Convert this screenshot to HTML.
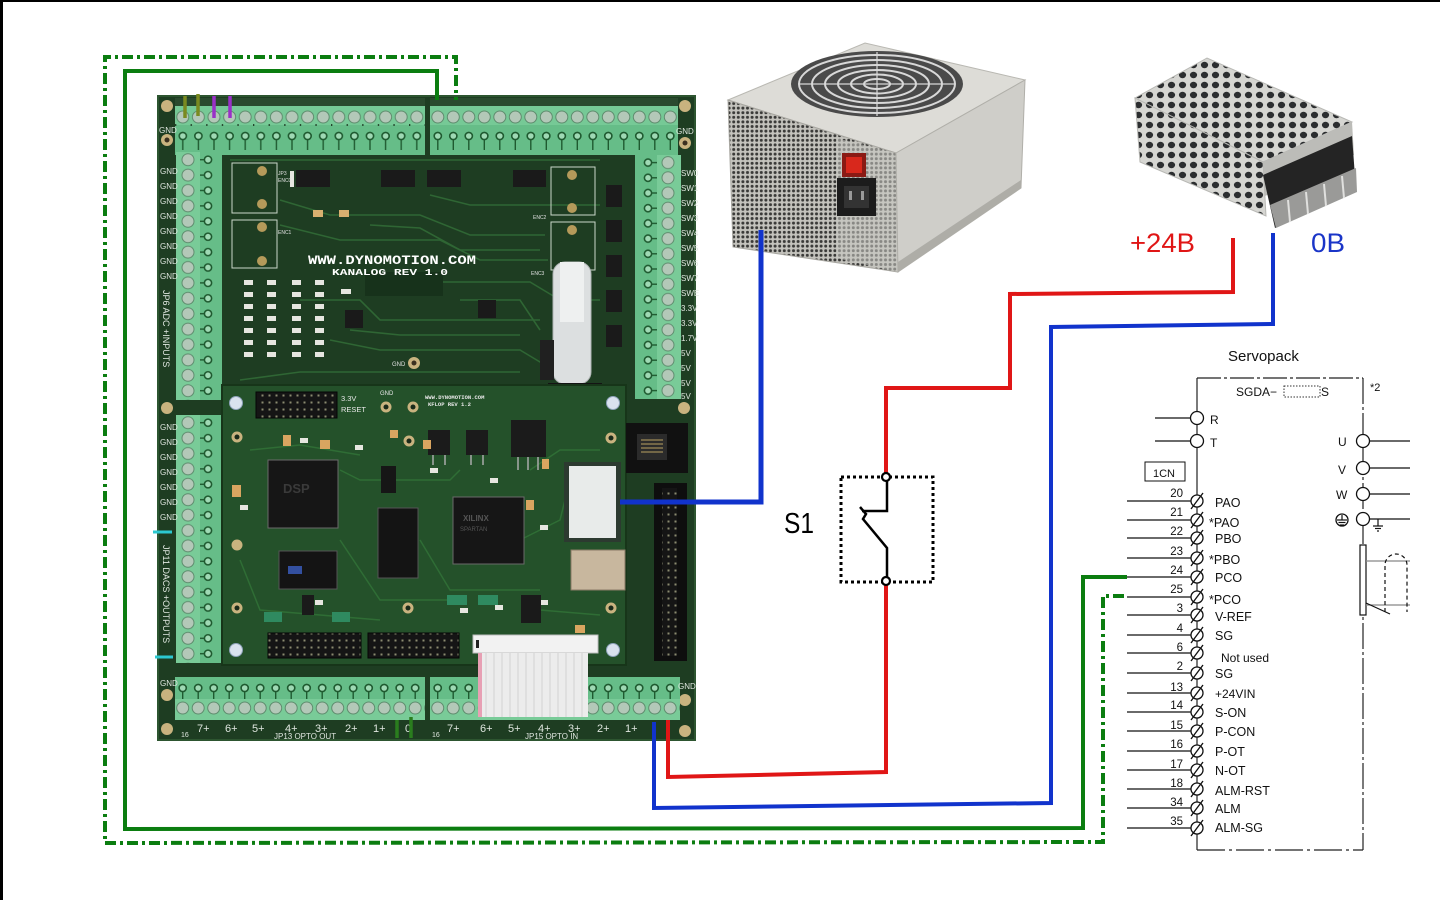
<!DOCTYPE html>
<html><head><meta charset="utf-8"><style>
html,body{margin:0;padding:0;background:#fff;}
svg{display:block;}
text{font-family:"Liberation Sans",sans-serif;}
text.mono{font-family:"Liberation Mono",monospace;}
</style></head><body>
<svg width="1440" height="900" viewBox="0 0 1440 900" xmlns="http://www.w3.org/2000/svg">
<defs>
 <pattern id="pTop1" x="175" y="98" width="15.6" height="57" patternUnits="userSpaceOnUse">
  <rect width="15.6" height="57" fill="#76c996"/>
  <rect width="15.6" height="8" fill="#2a4a2e"/>
  <circle cx="7.8" cy="19" r="6" fill="#b3c8b8" stroke="#5f8c6e" stroke-width="1"/>
  <rect y="27" width="15.6" height="30" fill="#66bd88"/>
  <circle cx="7.8" cy="38" r="3.6" fill="#9fd9b4" stroke="#1f5a30" stroke-width="1.6"/>
  <line x1="7.8" y1="41.5" x2="7.8" y2="52" stroke="#1f5a30" stroke-width="1.4"/>
  <circle cx="0.5" cy="27" r="1" fill="#1f3a25"/>
 </pattern>
 <pattern id="pTop2" x="430" y="98" width="15.5" height="57" patternUnits="userSpaceOnUse">
  <rect width="15.5" height="57" fill="#76c996"/>
  <rect width="15.5" height="8" fill="#2a4a2e"/>
  <circle cx="7.8" cy="19" r="6" fill="#b3c8b8" stroke="#5f8c6e" stroke-width="1"/>
  <rect y="27" width="15.5" height="30" fill="#66bd88"/>
  <circle cx="7.8" cy="38" r="3.6" fill="#9fd9b4" stroke="#1f5a30" stroke-width="1.6"/>
  <line x1="7.8" y1="41.5" x2="7.8" y2="52" stroke="#1f5a30" stroke-width="1.4"/>
 </pattern>
 <pattern id="pLeft" x="176" y="152" width="46" height="15.4" patternUnits="userSpaceOnUse">
  <rect width="46" height="15.4" fill="#66bd88"/>
  <rect width="24" height="15.4" fill="#79cb98"/>
  <circle cx="12" cy="7.7" r="6" fill="#b3c8b8" stroke="#5f8c6e" stroke-width="1"/>
  <circle cx="32" cy="7.7" r="3.6" fill="#9fd9b4" stroke="#1f5a30" stroke-width="1.6"/>
  <line x1="24" y1="7.7" x2="28.5" y2="7.7" stroke="#1f5a30" stroke-width="1.4"/>
 </pattern>
 <pattern id="pLeft2" x="176" y="415" width="46" height="15.4" patternUnits="userSpaceOnUse">
  <rect width="46" height="15.4" fill="#66bd88"/>
  <rect width="24" height="15.4" fill="#79cb98"/>
  <circle cx="12" cy="7.7" r="6" fill="#b3c8b8" stroke="#5f8c6e" stroke-width="1"/>
  <circle cx="32" cy="7.7" r="3.6" fill="#9fd9b4" stroke="#1f5a30" stroke-width="1.6"/>
  <line x1="24" y1="7.7" x2="28.5" y2="7.7" stroke="#1f5a30" stroke-width="1.4"/>
 </pattern>
 <pattern id="pRight" x="635" y="155" width="46" height="15.2" patternUnits="userSpaceOnUse">
  <rect width="46" height="15.2" fill="#66bd88"/>
  <rect x="22" width="24" height="15.2" fill="#79cb98"/>
  <circle cx="33" cy="7.6" r="6" fill="#b3c8b8" stroke="#5f8c6e" stroke-width="1"/>
  <circle cx="13" cy="7.6" r="3.6" fill="#9fd9b4" stroke="#1f5a30" stroke-width="1.6"/>
  <line x1="16.5" y1="7.6" x2="22" y2="7.6" stroke="#1f5a30" stroke-width="1.4"/>
 </pattern>
 <pattern id="pBot1" x="175" y="677" width="15.5" height="43" patternUnits="userSpaceOnUse">
  <rect width="15.5" height="43" fill="#66bd88"/>
  <rect y="22" width="15.5" height="21" fill="#79cb98"/>
  <circle cx="7.7" cy="31" r="6" fill="#b3c8b8" stroke="#5f8c6e" stroke-width="1"/>
  <circle cx="7.7" cy="11" r="3.6" fill="#9fd9b4" stroke="#1f5a30" stroke-width="1.6"/>
  <line x1="7.7" y1="14.5" x2="7.7" y2="22" stroke="#1f5a30" stroke-width="1.4"/>
 </pattern>
 <pattern id="pBot2" x="430" y="677" width="15.5" height="43" patternUnits="userSpaceOnUse">
  <rect width="15.5" height="43" fill="#66bd88"/>
  <rect y="22" width="15.5" height="21" fill="#79cb98"/>
  <circle cx="7.7" cy="31" r="6" fill="#b3c8b8" stroke="#5f8c6e" stroke-width="1"/>
  <circle cx="7.7" cy="11" r="3.6" fill="#9fd9b4" stroke="#1f5a30" stroke-width="1.6"/>
  <line x1="7.7" y1="14.5" x2="7.7" y2="22" stroke="#1f5a30" stroke-width="1.4"/>
 </pattern>
 <pattern id="perf" x="0" y="0" width="4.6" height="4.6" patternUnits="userSpaceOnUse">
  <rect width="4.6" height="4.6" fill="#c4c3bd"/>
  <circle cx="2.3" cy="2.3" r="1.5" fill="#3a3a38"/>
 </pattern>
 <pattern id="mwHoles" x="0" y="0" width="11" height="10" patternUnits="userSpaceOnUse">
  <rect width="11" height="10" fill="#d6d6d2"/>
  <ellipse cx="5.5" cy="5" rx="3.6" ry="3.2" fill="#2c2e30"/>
 </pattern>
 <pattern id="hdr" x="0" y="0" width="7" height="7" patternUnits="userSpaceOnUse">
  <rect width="7" height="7" fill="#151515"/>
  <rect x="2.5" y="2.5" width="2" height="2" fill="#8a8a70"/>
 </pattern>
</defs>

<rect width="1440" height="900" fill="#ffffff"/>
<rect x="0" y="0" width="1440" height="2" fill="#000"/>
<rect x="0" y="0" width="3" height="900" fill="#000"/>

<!-- ============ ATX PSU ============ -->
<polygon points="728,100 865,43 1025,80 896,153" fill="#dddcd7" stroke="#b9b8b2"/>
<ellipse cx="877" cy="84" rx="86" ry="33" fill="#4a4a4a"/>
<g fill="none" stroke="#d8d8d8" stroke-width="2">
 <ellipse cx="877" cy="84" rx="78" ry="29"/>
 <ellipse cx="877" cy="84" rx="65" ry="24"/>
 <ellipse cx="877" cy="84" rx="52" ry="19"/>
 <ellipse cx="877" cy="84" rx="39" ry="14"/>
 <ellipse cx="877" cy="84" rx="26" ry="9.5"/>
 <ellipse cx="877" cy="84" rx="13" ry="5"/>
 <line x1="800" y1="84" x2="954" y2="84" stroke-width="1.2"/>
 <line x1="877" y1="52" x2="877" y2="116" stroke-width="1.2"/>
</g>
<polygon points="728,100 896,153 898,272 733,247" fill="url(#perf)" stroke="#a8a7a1"/>
<polygon points="836,138 896,153 898,272 836,258" fill="#c9c8c2" opacity="0.55"/>
<polygon points="896,153 1025,80 1021,188 898,272" fill="#cfcec9" stroke="#b0afa9"/>
<polygon points="898,262 1021,180 1021,188 898,272" fill="#aeada7"/>
<rect x="842" y="153" width="24" height="24" fill="#8a1a14"/>
<rect x="846" y="157" width="16" height="16" fill="#d8281c"/>
<rect x="837" y="178" width="39" height="38" fill="#1c1c1c"/>
<rect x="844" y="186" width="25" height="22" fill="#333"/>
<rect x="849" y="191" width="3" height="9" fill="#999"/><rect x="861" y="191" width="3" height="9" fill="#999"/>

<!-- ============ Meanwell PSU ============ -->
<polygon points="1135,98 1207,58 1352,122 1263,162" fill="url(#mwHoles)" stroke="#b8b8b4"/>
<polygon points="1135,98 1263,162 1266,216 1140,162" fill="url(#mwHoles)" stroke="#b8b8b4"/>
<polygon points="1263,162 1352,122 1354,155 1265,196" fill="#bcbcb8"/>
<polygon points="1263,175 1352,136 1356,190 1275,228" fill="#242424"/>
<polygon points="1270,205 1356,168 1357,192 1276,228" fill="#9a9a98"/>
<g stroke="#e0e0de" stroke-width="2">
 <line x1="1288" y1="200" x2="1290" y2="222"/><line x1="1306" y1="192" x2="1308" y2="214"/>
 <line x1="1324" y1="184" x2="1326" y2="206"/><line x1="1342" y1="176" x2="1344" y2="198"/>
</g>

<!-- labels for PSU -->
<text x="1130" y="252" font-size="27" fill="#e01616" textLength="65" lengthAdjust="spacingAndGlyphs">+24B</text>
<text x="1311" y="252" font-size="27" fill="#1a35c8" textLength="34" lengthAdjust="spacingAndGlyphs">0B</text>

<!-- ============ Board ============ -->
<rect x="158" y="96" width="537" height="644" fill="#1e3d22"/>
<rect x="158" y="96" width="537" height="644" fill="none" stroke="#2d5530" stroke-width="2"/>
<!-- traces -->
<g stroke="#2f6634" stroke-width="1.6" fill="none">
 <polyline points="280,200 330,215 420,215 470,235 545,235"/>
 <polyline points="280,225 340,240 440,240 480,260 548,260"/>
 <polyline points="300,300 360,300 380,320 540,320"/>
 <polyline points="330,340 380,350 520,350 545,365"/>
 <polyline points="240,380 300,372 520,372"/>
 <polyline points="430,195 470,205 600,205"/>
 <polyline points="440,282 530,282 560,300 600,300"/>
 <polyline points="460,300 520,300 540,330"/>
 <polyline points="370,225 420,228 460,250 540,250"/>
 <polyline points="350,330 400,335 520,335"/>
 <polyline points="230,160 600,160"/>
</g>
<!-- ENC boxes -->
<g stroke="#c9d6c9" stroke-width="1" fill="none">
 <rect x="232" y="163" width="45" height="50"/>
 <rect x="232" y="220" width="45" height="48"/>
 <rect x="551" y="167" width="44" height="48"/>
 <rect x="551" y="222" width="44" height="48"/>
</g>
<g fill="#b59a5a">
 <circle cx="262" cy="171" r="5"/><circle cx="262" cy="204" r="5"/><circle cx="262" cy="227" r="5"/><circle cx="262" cy="261" r="5"/>
 <circle cx="572" cy="175" r="5"/><circle cx="572" cy="208" r="5"/><circle cx="572" cy="230" r="5"/>
</g>
<g fill="#1a1a1a">
 <rect x="296" y="170" width="34" height="17"/>
 <rect x="381" y="170" width="34" height="17"/>
 <rect x="427" y="170" width="34" height="17"/>
 <rect x="513" y="170" width="33" height="17"/>
 <rect x="606" y="185" width="16" height="22"/>
 <rect x="606" y="220" width="16" height="22"/>
 <rect x="606" y="255" width="16" height="22"/>
 <rect x="606" y="290" width="16" height="22"/>
 <rect x="606" y="325" width="16" height="22"/>
 <rect x="345" y="310" width="18" height="18"/>
 <rect x="478" y="300" width="18" height="18"/>
</g>
<rect x="365" y="272" width="78" height="24" fill="#17321b"/>
<!-- small SMD parts -->
<g fill="#e6e6e0">
 <rect x="244" y="280" width="9" height="5"/><rect x="267" y="280" width="9" height="5"/><rect x="292" y="280" width="9" height="5"/><rect x="315" y="280" width="9" height="5"/>
 <rect x="244" y="292" width="9" height="5"/><rect x="267" y="292" width="9" height="5"/><rect x="292" y="292" width="9" height="5"/><rect x="315" y="292" width="9" height="5"/>
 <rect x="244" y="304" width="9" height="5"/><rect x="267" y="304" width="9" height="5"/><rect x="292" y="304" width="9" height="5"/><rect x="315" y="304" width="9" height="5"/>
 <rect x="244" y="316" width="9" height="5"/><rect x="267" y="316" width="9" height="5"/><rect x="292" y="316" width="9" height="5"/><rect x="315" y="316" width="9" height="5"/>
 <rect x="244" y="328" width="9" height="5"/><rect x="267" y="328" width="9" height="5"/><rect x="292" y="328" width="9" height="5"/><rect x="315" y="328" width="9" height="5"/>
 <rect x="244" y="340" width="9" height="5"/><rect x="267" y="340" width="9" height="5"/><rect x="292" y="340" width="9" height="5"/><rect x="315" y="340" width="9" height="5"/>
 <rect x="244" y="352" width="9" height="5"/><rect x="267" y="352" width="9" height="5"/><rect x="292" y="352" width="9" height="5"/><rect x="315" y="352" width="9" height="5"/>
 <rect x="341" y="289" width="10" height="5"/><rect x="290" y="171" width="4" height="16"/>
</g>
<rect x="313" y="210" width="10" height="7" fill="#d9b070"/><rect x="339" y="210" width="10" height="7" fill="#d9b070"/>
<text class="mono" x="308" y="264" font-size="12.5" font-weight="bold" fill="#ffffff" textLength="168" lengthAdjust="spacingAndGlyphs">WWW.DYNOMOTION.COM</text>
<text class="mono" x="332" y="275" font-size="9" font-weight="bold" fill="#ffffff" textLength="116" lengthAdjust="spacingAndGlyphs">KANALOG REV 1.0</text>
<text x="278" y="175" font-size="5" fill="#e0e0e0">JP3</text><text x="278" y="182" font-size="5" fill="#e0e0e0">ENC0</text>
<text x="278" y="234" font-size="5" fill="#e0e0e0">ENC1</text>
<text x="531" y="275" font-size="5" fill="#e0e0e0">ENC3</text>
<text x="533" y="219" font-size="5" fill="#e0e0e0">ENC2</text>
<!-- holes -->
<g fill="#c9b37f"><circle cx="167" cy="106" r="6"/><circle cx="167" cy="140" r="6"/><circle cx="685" cy="106" r="6"/><circle cx="685" cy="143" r="6"/>
<circle cx="167" cy="408" r="6"/><circle cx="684" cy="408" r="6"/><circle cx="167" cy="695" r="6"/><circle cx="167" cy="729" r="6"/><circle cx="685" cy="700" r="6"/><circle cx="685" cy="731" r="6"/><circle cx="414" cy="363" r="6"/></g>
<g fill="#3b3020"><circle cx="167" cy="140" r="2.5"/><circle cx="685" cy="143" r="2.5"/><circle cx="414" cy="363" r="2.5"/></g>
<text x="392" y="366" font-size="6" fill="#e0e0e0">GND</text>

<!-- terminal strips -->
<rect x="175" y="98" width="250" height="57" fill="url(#pTop1)"/>
<rect x="430" y="98" width="248" height="57" fill="url(#pTop2)"/>
<rect x="176" y="152" width="46" height="248" fill="url(#pLeft)"/>
<rect x="176" y="415" width="46" height="248" fill="url(#pLeft2)"/>
<rect x="635" y="155" width="46" height="244" fill="url(#pRight)"/>
<rect x="175" y="677" width="250" height="43" fill="url(#pBot1)"/>
<rect x="430" y="677" width="250" height="43" fill="url(#pBot2)"/>

<!-- left labels -->
<g font-size="8" fill="#dfe6df">
 <text x="160" y="174">GND</text><text x="160" y="189">GND</text><text x="160" y="204">GND</text><text x="160" y="219">GND</text>
 <text x="160" y="234">GND</text><text x="160" y="249">GND</text><text x="160" y="264">GND</text><text x="160" y="279">GND</text>
 <text x="160" y="430">GND</text><text x="160" y="445">GND</text><text x="160" y="460">GND</text><text x="160" y="475">GND</text>
 <text x="160" y="490">GND</text><text x="160" y="505">GND</text><text x="160" y="520">GND</text>
 <text x="159" y="133">GND</text><text x="676" y="134">GND</text><text x="678" y="689">GND</text><text x="160" y="686">GND</text>
</g>
<text transform="translate(163,290) rotate(90)" font-size="9" fill="#dfe6df">JP6 ADC +INPUTS</text>
<text transform="translate(163,545) rotate(90)" font-size="9" fill="#dfe6df">JP11 DACS +OUTPUTS</text>
<g font-size="8" fill="#dfe6df">
 <text x="681" y="176">SW0</text><text x="681" y="191">SW1</text><text x="681" y="206">SW2</text><text x="681" y="221">SW3</text>
 <text x="681" y="236">SW4</text><text x="681" y="251">SW5</text><text x="681" y="266">SW6</text><text x="681" y="281">SW7</text>
 <text x="681" y="296">SWE</text><text x="681" y="311">3.3V</text><text x="681" y="326">3.3V</text><text x="681" y="341">1.7V</text>
 <text x="681" y="356">5V</text><text x="681" y="371">5V</text><text x="681" y="386">5V</text><text x="681" y="399">5V</text>
</g>
<g font-size="11" fill="#dfe6df">
 <text x="181" y="737" font-size="7">16</text><text x="197" y="732">7+</text><text x="225" y="732">6+</text><text x="252" y="732">5+</text><text x="285" y="732">4+</text>
 <text x="315" y="732">3+</text><text x="345" y="732">2+</text><text x="373" y="732">1+</text><text x="405" y="732">0</text>
 <text x="432" y="737" font-size="7">16</text><text x="447" y="732">7+</text><text x="480" y="732">6+</text><text x="508" y="732">5+</text><text x="538" y="732">4+</text>
 <text x="568" y="732">3+</text><text x="597" y="732">2+</text><text x="625" y="732">1+</text>
</g>
<text x="274" y="739" font-size="8" fill="#dfe6df">JP13  OPTO  OUT</text>
<text x="525" y="739" font-size="8" fill="#dfe6df">JP15  OPTO  IN</text>

<!-- vertical cable -->
<rect x="553" y="262" width="38" height="122" rx="12" fill="#dcdfe0" stroke="#aeb3b3"/>
<rect x="560" y="262" width="24" height="60" fill="#eef0f0"/>
<rect x="548" y="383" width="54" height="48" fill="#141414"/>
<rect x="556" y="400" width="18" height="14" fill="#3a3a3a"/><rect x="578" y="400" width="18" height="14" fill="#3a3a3a"/>
<rect x="540" y="340" width="14" height="40" fill="#202020"/>

<!-- Inner KFLOP board -->
<rect x="222" y="385" width="404" height="280" fill="#24512a"/>
<rect x="222" y="385" width="404" height="280" fill="none" stroke="#173519" stroke-width="2"/>
<g stroke="#2f6d35" stroke-width="1.5" fill="none">
 <polyline points="340,470 360,480 450,480 460,470"/>
 <polyline points="340,540 380,600 450,600"/>
 <polyline points="420,540 450,590 540,590"/>
 <polyline points="530,470 560,450 600,450"/>
 <polyline points="240,560 260,610 380,620"/>
 <polyline points="520,540 560,520 565,500"/>
 <polyline points="250,450 300,445 360,455"/>
 <polyline points="540,610 600,615"/>
</g>
<rect x="256" y="392" width="81" height="26" fill="url(#hdr)" stroke="#050505"/>
<text x="341" y="401" font-size="7.5" fill="#e8e8e8">3.3V</text>
<text x="341" y="412" font-size="7.5" fill="#e8e8e8">RESET</text>
<text x="380" y="395" font-size="6" fill="#e8e8e8">GND</text>
<text class="mono" x="425" y="399" font-size="5.5" font-weight="bold" fill="#e8e8e8">WWW.DYNOMOTION.COM</text>
<text class="mono" x="428" y="406" font-size="5.5" font-weight="bold" fill="#e8e8e8">KFLOP  REV  1.2</text>
<g fill="#c9b37f"><circle cx="386" cy="407" r="5.5"/><circle cx="413" cy="407" r="5.5"/><circle cx="237" cy="437" r="5.5"/><circle cx="409" cy="441" r="5.5"/><circle cx="237" cy="545" r="5.5"/><circle cx="237" cy="608" r="5.5"/><circle cx="408" cy="608" r="5.5"/><circle cx="611" cy="608" r="5.5"/><circle cx="611" cy="438" r="5.5"/></g>
<g fill="#1a2a1a"><circle cx="386" cy="407" r="2.5"/><circle cx="413" cy="407" r="2.5"/><circle cx="237" cy="437" r="2.5"/><circle cx="409" cy="441" r="2.5"/><circle cx="237" cy="608" r="2.5"/><circle cx="408" cy="608" r="2.5"/><circle cx="611" cy="608" r="2.5"/><circle cx="611" cy="438" r="2.5"/></g>
<g fill="#d9e2ee" stroke="#8fa3bb"><circle cx="236" cy="403" r="6.5"/><circle cx="613" cy="403" r="6.5"/><circle cx="236" cy="650" r="6.5"/><circle cx="613" cy="650" r="6.5"/></g>
<!-- chips -->
<rect x="268" y="460" width="70" height="68" fill="#161616" stroke="#6a6a6a"/>
<text x="283" y="493" font-size="13" fill="#3a3a3a" font-weight="bold">DSP</text>
<rect x="453" y="497" width="71" height="67" fill="#161616" stroke="#6a6a6a"/>
<text x="463" y="521" font-size="8" fill="#555" font-weight="bold">XILINX</text>
<text x="460" y="531" font-size="6" fill="#555">SPARTAN</text>
<rect x="378" y="508" width="40" height="70" fill="#141414" stroke="#555"/>
<rect x="279" y="551" width="58" height="38" fill="#141414" stroke="#555"/>
<rect x="288" y="566" width="14" height="8" fill="#3350a0"/>
<rect x="381" y="466" width="15" height="27" fill="#161616"/>
<rect x="428" y="430" width="22" height="25" fill="#1b1b1b"/>
<rect x="466" y="430" width="22" height="25" fill="#1b1b1b"/>
<rect x="511" y="420" width="35" height="37" fill="#1b1b1b"/>
<g stroke="#aaa" stroke-width="1.5"><line x1="433" y1="455" x2="433" y2="465"/><line x1="445" y1="455" x2="445" y2="465"/><line x1="471" y1="455" x2="471" y2="465"/><line x1="483" y1="455" x2="483" y2="465"/><line x1="518" y1="457" x2="518" y2="470"/><line x1="528" y1="457" x2="528" y2="470"/><line x1="538" y1="457" x2="538" y2="470"/></g>
<g fill="#d9a560"><rect x="283" y="435" width="8" height="11"/><rect x="320" y="440" width="10" height="9"/><rect x="232" y="485" width="9" height="12"/><rect x="423" y="440" width="8" height="9"/><rect x="390" y="430" width="8" height="8"/><rect x="542" y="459" width="7" height="10"/><rect x="526" y="500" width="8" height="10"/><rect x="575" y="625" width="10" height="8"/><rect x="565" y="520" width="7" height="9"/></g>
<g fill="#e6e6e0"><rect x="300" y="438" width="8" height="5"/><rect x="355" y="445" width="8" height="5"/><rect x="240" y="505" width="8" height="5"/><rect x="430" y="468" width="8" height="5"/><rect x="490" y="478" width="8" height="5"/><rect x="540" y="525" width="8" height="5"/><rect x="460" y="608" width="8" height="5"/><rect x="495" y="605" width="8" height="5"/><rect x="540" y="600" width="8" height="5"/><rect x="315" y="600" width="8" height="5"/></g>
<rect x="302" y="595" width="12" height="20" fill="#1a1a1a"/>
<rect x="521" y="595" width="20" height="28" fill="#1a1a1a"/>
<rect x="478" y="595" width="20" height="10" fill="#2f8a60"/><rect x="447" y="595" width="20" height="10" fill="#2f8a60"/>
<rect x="264" y="612" width="18" height="10" fill="#2f8a60"/><rect x="332" y="612" width="18" height="10" fill="#2f8a60"/>
<!-- JR1 white block / USB -->
<rect x="564" y="462" width="57" height="80" fill="#2c3a30"/>
<rect x="569" y="466" width="47" height="72" fill="#e8ebea"/>
<rect x="571" y="550" width="54" height="40" fill="#c8b79e" stroke="#8a7a66"/>
<!-- ethernet jack -->
<rect x="626" y="423" width="62" height="50" fill="#111"/>
<rect x="637" y="434" width="30" height="26" fill="#2b2b2b"/>
<g stroke="#b8a060" stroke-width="1"><line x1="641" y1="440" x2="663" y2="440"/><line x1="641" y1="444" x2="663" y2="444"/><line x1="641" y1="448" x2="663" y2="448"/><line x1="641" y1="452" x2="663" y2="452"/></g>
<!-- JP12 -->
<rect x="654" y="483" width="33" height="178" fill="#0e0e0e"/>
<rect x="662" y="488" width="15" height="168" fill="url(#hdr)"/>
<!-- headers bottom -->
<rect x="268" y="633" width="93" height="25" fill="url(#hdr)" stroke="#050505"/>
<rect x="368" y="633" width="91" height="25" fill="url(#hdr)" stroke="#050505"/>
<!-- ribbon -->
<rect x="473" y="635" width="125" height="18" fill="#f2f2f2" stroke="#bdbdbd"/>
<rect x="478" y="653" width="110" height="64" fill="#ececec"/>
<g stroke="#d2d2d2" stroke-width="1">
 <line x1="486" y1="653" x2="486" y2="717"/><line x1="494" y1="653" x2="494" y2="717"/><line x1="502" y1="653" x2="502" y2="717"/><line x1="510" y1="653" x2="510" y2="717"/>
 <line x1="518" y1="653" x2="518" y2="717"/><line x1="526" y1="653" x2="526" y2="717"/><line x1="534" y1="653" x2="534" y2="717"/><line x1="542" y1="653" x2="542" y2="717"/>
 <line x1="550" y1="653" x2="550" y2="717"/><line x1="558" y1="653" x2="558" y2="717"/><line x1="566" y1="653" x2="566" y2="717"/><line x1="574" y1="653" x2="574" y2="717"/><line x1="582" y1="653" x2="582" y2="717"/>
</g>
<rect x="478" y="653" width="4" height="64" fill="#e7a0b4"/>
<rect x="476" y="640" width="3" height="8" fill="#222"/>

<!-- colored marks on terminals -->
<g stroke-width="3.5">
 <line x1="185" y1="96" x2="185" y2="118" stroke="#7a8a20"/>
 <line x1="198" y1="94" x2="198" y2="116" stroke="#7a8a20"/>
 <line x1="214" y1="96" x2="214" y2="118" stroke="#9a30c8"/>
 <line x1="230" y1="96" x2="230" y2="118" stroke="#9a30c8"/>
 <line x1="397" y1="720" x2="397" y2="738" stroke="#2a7d1e"/>
 <line x1="411" y1="717" x2="411" y2="738" stroke="#2a7d1e"/>
</g>
<g stroke="#2cc8d0" stroke-width="3"><line x1="153" y1="532" x2="172" y2="532"/><line x1="155" y1="657" x2="173" y2="657"/></g>

<!-- ============ Wires ============ -->
<polyline points="1124,596 1103,596 1103,842 105,843 105,57 456,57 456,100" fill="none" stroke="#0b7d10" stroke-width="4" stroke-dasharray="11 4 3 4"/>
<polyline points="1127,577 1083,577 1083,828 125,829 125,71 437,71 437,100" fill="none" stroke="#0b7d10" stroke-width="4"/>
<polyline points="761,230 761,502 620,502" fill="none" stroke="#1133cc" stroke-width="5"/>
<polyline points="1233,238 1233,292 1010,294 1010,388 886,388 886,474" fill="none" stroke="#e01616" stroke-width="4"/>
<polyline points="886,584 886,772 668,777 668,720" fill="none" stroke="#e01616" stroke-width="4"/>
<polyline points="1273,233 1273,324 1051,327 1051,803 654,808 654,722" fill="none" stroke="#1133cc" stroke-width="4"/>

<!-- S1 switch -->
<rect x="841" y="477" width="92" height="105" fill="none" stroke="#000" stroke-width="3" stroke-dasharray="3 3"/>
<circle cx="886" cy="477" r="4" fill="#fff" stroke="#000" stroke-width="2.2"/>
<circle cx="886" cy="581" r="4" fill="#fff" stroke="#000" stroke-width="2.2"/>
<polyline points="887,481 887,511 862,511" fill="none" stroke="#000" stroke-width="2.5"/>
<polyline points="860,507 866,514 863,519 887,548 887,577" fill="none" stroke="#000" stroke-width="2.5"/>
<text x="784" y="533" font-size="29" fill="#000" textLength="30" lengthAdjust="spacingAndGlyphs">S1</text>

<!-- ============ Servopack ============ -->
<text x="1228" y="361" font-size="15" fill="#111">Servopack</text>
<g stroke="#222" stroke-width="1.2" fill="none">
 <line x1="1197" y1="378" x2="1363" y2="378" stroke-dasharray="24 3 3 3"/>
 <line x1="1363" y1="378" x2="1363" y2="850" stroke-dasharray="26 3 3 3"/>
 <line x1="1197" y1="850" x2="1363" y2="850" stroke-dasharray="28 4 3 4"/>
 <line x1="1197" y1="378" x2="1197" y2="850"/>
</g>
<text x="1370" y="391" font-size="11" fill="#111">*2</text>
<text x="1236" y="396" font-size="12" fill="#111">SGDA−</text>
<rect x="1284" y="386" width="36" height="11" fill="none" stroke="#333" stroke-width="1" stroke-dasharray="1.5 1.5"/>
<text x="1321" y="396" font-size="12" fill="#111">S</text>
<g stroke="#111" stroke-width="1.3" fill="#fff">
 <line x1="1155" y1="418" x2="1191" y2="418"/><circle cx="1197" cy="418" r="6.5"/>
 <line x1="1155" y1="441" x2="1191" y2="441"/><circle cx="1197" cy="441" r="6.5"/>
 <line x1="1369" y1="441" x2="1410" y2="441"/><circle cx="1363" cy="441" r="6.5"/>
 <line x1="1369" y1="468" x2="1410" y2="468"/><circle cx="1363" cy="468" r="6.5"/>
 <line x1="1369" y1="494" x2="1410" y2="494"/><circle cx="1363" cy="494" r="6.5"/>
 <line x1="1369" y1="519" x2="1410" y2="519"/><circle cx="1363" cy="519" r="6.5"/>
 <circle cx="1342" cy="520" r="6"/>
</g>
<g stroke="#111" stroke-width="1.2" fill="none">
 <line x1="1342" y1="515" x2="1342" y2="520"/><line x1="1337" y1="520" x2="1347" y2="520"/><line x1="1338.5" y1="522.5" x2="1345.5" y2="522.5"/><line x1="1340" y1="525" x2="1344" y2="525"/>
 <line x1="1378" y1="519" x2="1378" y2="526"/><line x1="1373" y1="526" x2="1383" y2="526"/><line x1="1375" y1="528.5" x2="1381" y2="528.5"/><line x1="1377" y1="531" x2="1379" y2="531"/>
 <rect x="1360" y="545" width="6" height="70" fill="#fff"/>
 <line x1="1366" y1="561" x2="1410" y2="561" stroke="#888"/>
 <line x1="1366" y1="605" x2="1410" y2="605" stroke="#888"/>
 <path d="M1385,612 L1385,565 A11,11 0 0 1 1407,565 L1407,612" stroke-dasharray="4 3"/>
 <line x1="1366" y1="603" x2="1390" y2="614"/>
</g>
<text x="1338" y="446" font-size="12" fill="#111">U</text>
<text x="1338" y="474" font-size="12" fill="#111">V</text>
<text x="1336" y="499" font-size="12" fill="#111">W</text>
<text x="1210" y="424" font-size="12" fill="#111">R</text>
<text x="1210" y="447" font-size="12" fill="#111">T</text>
<rect x="1145" y="462" width="40" height="19" fill="none" stroke="#111" stroke-width="1"/>
<text x="1153" y="477" font-size="11" fill="#111">1CN</text>

<g stroke="#111" stroke-width="1.2">
 <line x1="1127" y1="501" x2="1191" y2="501"/><line x1="1127" y1="520" x2="1191" y2="520"/><line x1="1127" y1="538" x2="1191" y2="538"/>
 <line x1="1127" y1="558" x2="1191" y2="558"/><line x1="1127" y1="577" x2="1191" y2="577"/><line x1="1127" y1="597" x2="1191" y2="597"/>
 <line x1="1127" y1="615" x2="1191" y2="615"/><line x1="1127" y1="635" x2="1191" y2="635"/><line x1="1127" y1="653" x2="1191" y2="653"/>
 <line x1="1127" y1="673" x2="1191" y2="673"/><line x1="1127" y1="693" x2="1191" y2="693"/><line x1="1127" y1="712" x2="1191" y2="712"/>
 <line x1="1127" y1="731" x2="1191" y2="731"/><line x1="1127" y1="751" x2="1191" y2="751"/><line x1="1127" y1="770" x2="1191" y2="770"/>
 <line x1="1127" y1="789" x2="1191" y2="789"/><line x1="1127" y1="808" x2="1191" y2="808"/><line x1="1127" y1="828" x2="1191" y2="828"/>
</g>
<g stroke="#111" stroke-width="1.3" fill="#fff">
 <circle cx="1197" cy="501" r="6"/><circle cx="1197" cy="520" r="6"/><circle cx="1197" cy="538" r="6"/><circle cx="1197" cy="558" r="6"/>
 <circle cx="1197" cy="577" r="6"/><circle cx="1197" cy="597" r="6"/><circle cx="1197" cy="615" r="6"/><circle cx="1197" cy="635" r="6"/>
 <circle cx="1197" cy="653" r="6"/><circle cx="1197" cy="673" r="6"/><circle cx="1197" cy="693" r="6"/><circle cx="1197" cy="712" r="6"/>
 <circle cx="1197" cy="731" r="6"/><circle cx="1197" cy="751" r="6"/><circle cx="1197" cy="770" r="6"/><circle cx="1197" cy="789" r="6"/>
 <circle cx="1197" cy="808" r="6"/><circle cx="1197" cy="828" r="6"/>
</g>
<g stroke="#111" stroke-width="1.3">
 <line x1="1191" y1="509" x2="1203" y2="493"/><line x1="1191" y1="528" x2="1203" y2="512"/><line x1="1191" y1="546" x2="1203" y2="530"/>
 <line x1="1191" y1="566" x2="1203" y2="550"/><line x1="1191" y1="585" x2="1203" y2="569"/><line x1="1191" y1="605" x2="1203" y2="589"/>
 <line x1="1191" y1="623" x2="1203" y2="607"/><line x1="1191" y1="643" x2="1203" y2="627"/><line x1="1191" y1="661" x2="1203" y2="645"/>
 <line x1="1191" y1="681" x2="1203" y2="665"/><line x1="1191" y1="701" x2="1203" y2="685"/><line x1="1191" y1="720" x2="1203" y2="704"/>
 <line x1="1191" y1="739" x2="1203" y2="723"/><line x1="1191" y1="759" x2="1203" y2="743"/><line x1="1191" y1="778" x2="1203" y2="762"/>
 <line x1="1191" y1="797" x2="1203" y2="781"/><line x1="1191" y1="816" x2="1203" y2="800"/><line x1="1191" y1="836" x2="1203" y2="820"/>
</g>
<g font-size="11.5" fill="#111" text-anchor="end">
 <text x="1183" y="497">20</text><text x="1183" y="516">21</text><text x="1183" y="535">22</text><text x="1183" y="555">23</text>
 <text x="1183" y="574">24</text><text x="1183" y="593">25</text><text x="1183" y="612">3</text><text x="1183" y="632">4</text>
 <text x="1183" y="651">6</text><text x="1183" y="670">2</text><text x="1183" y="691">13</text><text x="1183" y="709">14</text>
 <text x="1183" y="729">15</text><text x="1183" y="748">16</text><text x="1183" y="768">17</text><text x="1183" y="787">18</text>
 <text x="1183" y="806">34</text><text x="1183" y="825">35</text>
</g>
<g font-size="12.5" fill="#111">
 <text x="1215" y="507">PAO</text><text x="1209" y="527">*PAO</text><text x="1215" y="543">PBO</text><text x="1209" y="564">*PBO</text>
 <text x="1215" y="582">PCO</text><text x="1209" y="604">*PCO</text><text x="1215" y="621">V-REF</text><text x="1215" y="640">SG</text>
 <text x="1221" y="662" font-size="12">Not used</text><text x="1215" y="678">SG</text><text x="1215" y="698" font-size="12">+24VIN</text><text x="1215" y="717">S-ON</text>
 <text x="1215" y="736">P-CON</text><text x="1215" y="756">P-OT</text><text x="1215" y="775">N-OT</text><text x="1215" y="795">ALM-RST</text>
 <text x="1215" y="813">ALM</text><text x="1215" y="832">ALM-SG</text>
</g>
</svg>
</body></html>
